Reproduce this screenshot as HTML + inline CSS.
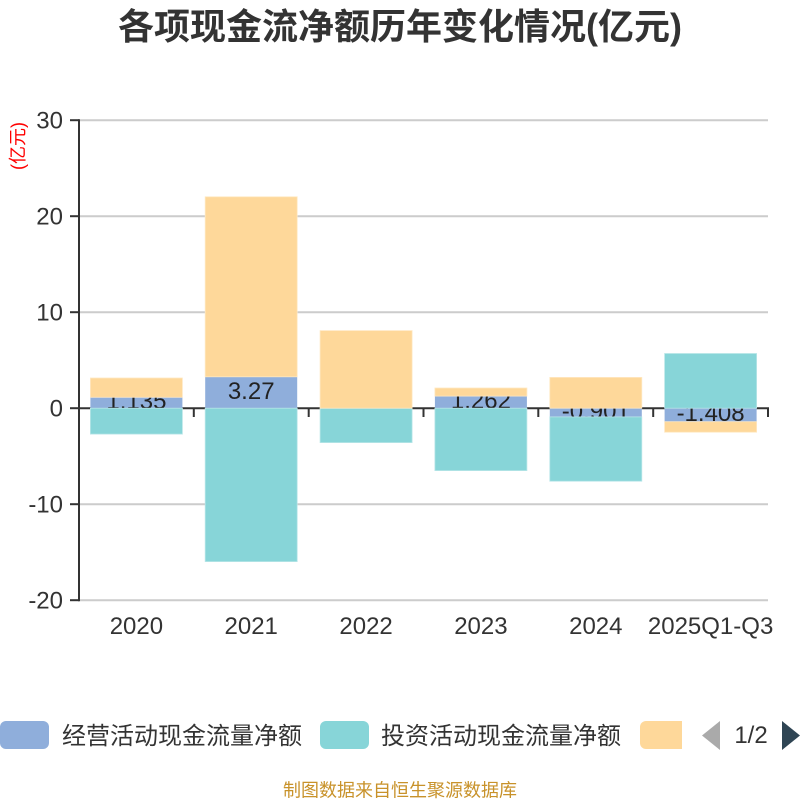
<!DOCTYPE html>
<html>
<head>
<meta charset="utf-8">
<style>
html,body{margin:0;padding:0;background:#fff;}
svg{display:block;}
text{font-family:"Liberation Sans","Noto Sans CJK SC",sans-serif;}
</style>
</head>
<body>
<svg width="800" height="800" viewBox="0 0 800 800" xmlns="http://www.w3.org/2000/svg">
  <!-- title -->
  <text x="400" y="39" text-anchor="middle" font-size="36" font-weight="bold" fill="#333">各项现金流净额历年变化情况(亿元)</text>

  <!-- y axis name -->
  <text transform="translate(24,146) rotate(-90)" text-anchor="middle" font-size="18" fill="#ff0000">(亿元)</text>

  <!-- gridlines -->
  <g stroke="#cccccc" stroke-width="2">
    <line x1="79" y1="120.2" x2="768" y2="120.2"/>
    <line x1="79" y1="216.2" x2="768" y2="216.2"/>
    <line x1="79" y1="312.2" x2="768" y2="312.2"/>
    <line x1="79" y1="504.2" x2="768" y2="504.2"/>
    <line x1="79" y1="600.2" x2="768" y2="600.2"/>
  </g>

  <!-- y axis -->
  <g stroke="#333" stroke-width="2">
    <line x1="79" y1="119.2" x2="79" y2="601.2"/>
    <line x1="70" y1="120.2" x2="79" y2="120.2"/>
    <line x1="70" y1="216.2" x2="79" y2="216.2"/>
    <line x1="70" y1="312.2" x2="79" y2="312.2"/>
    <line x1="70" y1="408.2" x2="79" y2="408.2"/>
    <line x1="70" y1="504.2" x2="79" y2="504.2"/>
    <line x1="70" y1="600.2" x2="79" y2="600.2"/>
  </g>
  <g font-size="24" fill="#333" text-anchor="end">
    <text x="63" y="128.5">30</text>
    <text x="63" y="224.5">20</text>
    <text x="63" y="320.5">10</text>
    <text x="63" y="416.5">0</text>
    <text x="63" y="512.5">-10</text>
    <text x="63" y="608.5">-20</text>
  </g>

  <!-- x axis at zero -->
  <g stroke="#333" stroke-width="2">
    <line x1="79" y1="408.2" x2="769" y2="408.2"/>
    <line x1="193.8" y1="408.2" x2="193.8" y2="417"/>
    <line x1="308.7" y1="408.2" x2="308.7" y2="417"/>
    <line x1="423.5" y1="408.2" x2="423.5" y2="417"/>
    <line x1="538.3" y1="408.2" x2="538.3" y2="417"/>
    <line x1="653.2" y1="408.2" x2="653.2" y2="417"/>
    <line x1="768" y1="408.2" x2="768" y2="417"/>
  </g>

  <defs>
    <clipPath id="c0"><rect x="90.4" y="397.3" width="92" height="10.9"/></clipPath>
    <clipPath id="c1"><rect x="205.2" y="376.8" width="92" height="31.4"/></clipPath>
    <clipPath id="c3"><rect x="434.9" y="396.1" width="92" height="12.1"/></clipPath>
    <clipPath id="c4"><rect x="549.8" y="408.2" width="92" height="8.7"/></clipPath>
    <clipPath id="c5"><rect x="664.6" y="408.2" width="92" height="13.5"/></clipPath>
  </defs>

  <!-- operating (blue) -->
  <g fill="#8FAEDB">
    <rect x="90.4" y="397.3" width="92" height="10.9"/>
    <rect x="205.2" y="376.8" width="92" height="31.4"/>
    <rect x="434.9" y="396.1" width="92" height="12.1"/>
    <rect x="549.8" y="408.2" width="92" height="8.7"/>
    <rect x="664.6" y="408.2" width="92" height="13.5"/>
  </g>

  <!-- labels clipped to blue segments -->
  <g font-size="24" fill="#222" text-anchor="middle">
    <text x="136.4" y="409" clip-path="url(#c0)">1.135</text>
    <text x="251.2" y="399" clip-path="url(#c1)">3.27</text>
    <text x="480.9" y="408.5" clip-path="url(#c3)">1.262</text>
    <text x="595.8" y="419" clip-path="url(#c4)">-0.901</text>
    <text x="710.6" y="421" clip-path="url(#c5)">-1.408</text>
  </g>

  <!-- investing (teal) -->
  <g fill="#87D5D8" stroke="#b8e6e8" stroke-width="0.8">
    <rect x="90.4" y="408.2" width="92" height="25.9"/>
    <rect x="205.2" y="408.2" width="92" height="153.4"/>
    <rect x="320.1" y="408.2" width="92" height="34.4"/>
    <rect x="434.9" y="408.2" width="92" height="62.4"/>
    <rect x="549.8" y="416.9" width="92" height="64.3"/>
    <rect x="664.6" y="353.5" width="92" height="54.7"/>
  </g>

  <!-- financing (orange) -->
  <g fill="#FED89A" stroke="#ffe8c2" stroke-width="0.8">
    <rect x="90.4" y="378.0" width="92" height="19.3"/>
    <rect x="205.2" y="196.8" width="92" height="180.0"/>
    <rect x="320.1" y="330.6" width="92" height="77.6"/>
    <rect x="434.9" y="388.0" width="92" height="8.1"/>
    <rect x="549.8" y="377.4" width="92" height="30.8"/>
    <rect x="664.6" y="421.7" width="92" height="10.5"/>
  </g>

  <!-- x labels -->
  <g font-size="24" fill="#333" text-anchor="middle">
    <text x="136.4" y="634">2020</text>
    <text x="251.2" y="634">2021</text>
    <text x="366.1" y="634">2022</text>
    <text x="480.9" y="634">2023</text>
    <text x="595.8" y="634">2024</text>
    <text x="710.6" y="634">2025Q1-Q3</text>
  </g>

  <!-- legend -->
  <rect x="0" y="721" width="49" height="28" rx="6" fill="#8FAEDB"/>
  <text x="62" y="744" font-size="24" fill="#333">经营活动现金流量净额</text>
  <rect x="320" y="721" width="49" height="28" rx="6" fill="#87D5D8"/>
  <text x="381" y="744" font-size="24" fill="#333">投资活动现金流量净额</text>
  <rect x="640" y="721" width="49" height="28" rx="6" fill="#FED89A"/>
  <rect x="682" y="715" width="18" height="40" fill="#fff"/>
  <polygon points="720,721 720,750 702,735.5" fill="#aaaaaa"/>
  <text x="751" y="743" font-size="24" fill="#333" text-anchor="middle">1/2</text>
  <polygon points="782,721 782,750 800,735.5" fill="#2f4554"/>

  <!-- footer -->
  <text x="400" y="796.5" text-anchor="middle" font-size="18" fill="#C8922A">制图数据来自恒生聚源数据库</text>
</svg>
</body>
</html>
